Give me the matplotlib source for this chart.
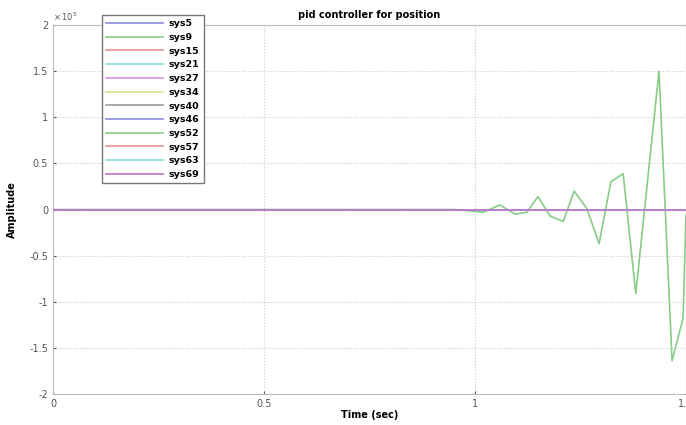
import numpy as np
import matplotlib.pyplot as plt

plt.rcParams['axes.unicode_minus'] = False

# nombres de los sistemas (leyenda)
sys_names = ["sys5", "sys9", "sys15", "sys21", "sys27", "sys34",
             "sys40", "sys46", "sys52", "sys57", "sys63", "sys69"]

# colores tipo matlab pero deslavados como en la imagen
colores = ["#8c8ce0", "#88cc88", "#e89090", "#90dcdc", "#dc90dc", "#e0e090",
           "#9a9a9a", "#8c8ce0", "#88cc88", "#e89090", "#90dcdc", "#c070c8"]

# tiempo y respuesta (x 10^5)
t = [0.0, 0.25, 0.5, 0.75, 0.95, 1.0, 1.019, 1.059, 1.095, 1.123, 1.149, 1.178,
     1.209, 1.235, 1.265, 1.294, 1.322, 1.351, 1.381, 1.436, 1.467, 1.493, 1.5]
resp52 = [0.0, 0.0, 0.0, 0.0, 0.0, -0.02, -0.03, 0.05, -0.05, -0.03, 0.14, -0.07,
          -0.13, 0.20, 0.01, -0.37, 0.30, 0.39, -0.91, 1.50, -1.64, -1.18, -0.06]

yticks = [-2, -1.5, -1, -0.5, 0, 0.5, 1, 1.5, 2]
ytick_labels = ["-2", "-1.5", "-1", "-0.5", "0", "0.5", "1", "1.5", "2"]
xticks = [0, 0.5, 1, 1.5]
xtick_labels = ["0", "0.5", "1", "1.5"]

t = np.array(t)
resp52 = np.array(resp52) * 1e5

fig = plt.figure(figsize=(6.86, 4.25), dpi=100)
ax = fig.add_axes([0.0773, 0.073, 0.9227, 0.868])

for nombre, c in zip(sys_names, colores):
    if nombre == "sys52":
        y = resp52
    else:
        y = np.zeros_like(t)
    ax.plot(t, y, color=c, lw=1.2, label=nombre, zorder=3 if nombre != "sys69" else 4)

ax.set_xlim(0, 1.5)
ax.set_ylim(-2e5, 2e5)
ax.set_xticks(xticks)
ax.set_xticklabels(xtick_labels)
ax.set_yticks(np.array(yticks) * 1e5)
ax.set_yticklabels(ytick_labels)
ax.text(0.0, 1.005, r"$\times\,10^5$", transform=ax.transAxes, fontsize=6,
        color="#555555", ha='left', va='bottom')
ax.grid(True, ls=':', color='#c8c8c8', lw=0.8)
ax.tick_params(labelsize=7, colors="#555555", length=2, direction='in')
for s in ax.spines.values():
    s.set_color("#bbbbbb")

ax.set_title("pid controller for position", fontsize=7, fontweight='bold', pad=5)
ax.set_xlabel("Time (sec)", fontsize=7, fontweight='bold', labelpad=1)
ax.set_ylabel("Amplitude", fontsize=7, fontweight='bold', labelpad=9)

leg = ax.legend(loc='upper left', bbox_to_anchor=(102 / 686, 1 - 15 / 425),
                bbox_transform=fig.transFigure, handlelength=6,
                labelspacing=0.5, borderpad=0.45, handletextpad=0.6,
                borderaxespad=0, fancybox=False, framealpha=1,
                edgecolor="#777777", prop={'weight': 'bold', 'size': 6.8})
leg.set_zorder(10)

fig.savefig("out.png", dpi=100)
